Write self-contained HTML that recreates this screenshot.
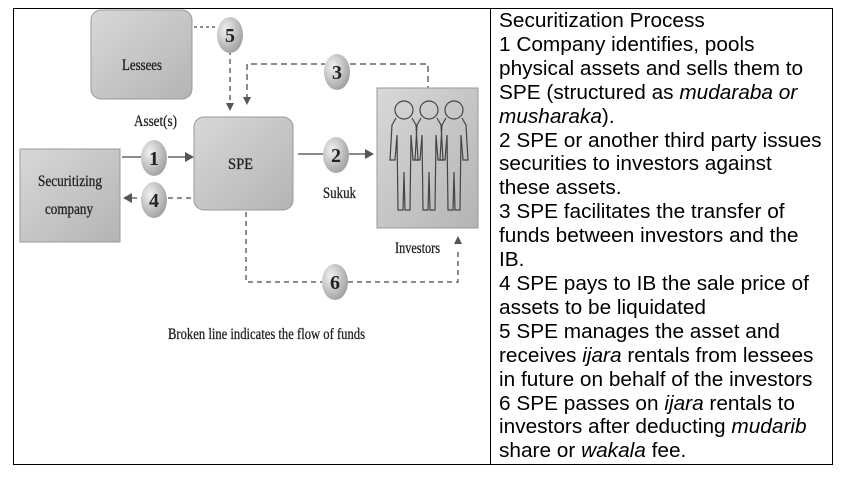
<!DOCTYPE html>
<html><head><meta charset="utf-8"><style>
body{margin:0;background:#fff;width:845px;height:485px;position:relative;overflow:hidden}
#t{position:absolute;left:13px;top:8px;width:818px;height:455px;border:1px solid #000}
#d{position:absolute;left:490px;top:8px;width:1px;height:456px;background:#000}
#txt{position:absolute;left:499px;top:10px;font-family:"Liberation Sans",sans-serif;font-size:20px;line-height:23.9px;color:#000;white-space:nowrap;transform:scaleX(1.04);transform-origin:0 0}
svg{position:absolute;left:0;top:0}
</style></head><body>
<div id="t"></div><div id="d"></div>
<svg width="490" height="470" viewBox="0 0 490 470" font-family="Liberation Serif,serif">
<defs>
<linearGradient id="g" x1="0" y1="0" x2="1" y2="1"><stop offset="0" stop-color="#d8d8d8"/><stop offset="1" stop-color="#b4b4b4"/></linearGradient>
<radialGradient id="c" cx="0.35" cy="0.35" r="0.7"><stop offset="0" stop-color="#f2f2f2"/><stop offset="1" stop-color="#a0a0a0"/></radialGradient>
</defs>
<g stroke="#666" stroke-width="1.5" fill="none">
<line x1="194" y1="27" x2="218" y2="27" stroke-dasharray="3,3"/>
<path d="M230 50 V103" stroke-dasharray="5,4"/>
<path d="M247 100 V64 H325 M350 64 H428 V88" stroke-dasharray="6,4"/>
<line x1="122" y1="157" x2="142" y2="157"/>
<line x1="168" y1="157" x2="185" y2="157"/>
<line x1="168" y1="198" x2="193" y2="198" stroke-dasharray="5,4"/>
<line x1="132" y1="198" x2="142" y2="198" stroke-dasharray="5,4"/>
<line x1="298" y1="154" x2="323" y2="154"/>
<line x1="349" y1="154" x2="365" y2="154"/>
<path d="M246 212 V282 H322 M348 282 H458 V250" stroke-dasharray="5,4"/>
</g>
<g fill="#555">
<polygon points="226,103 234,103 230,111"/>
<polygon points="243,97 251,97 247,105"/>
<polygon points="185,152 185,162 194,157"/>
<polygon points="365,149 365,159 374,154"/>
<polygon points="132,193 132,203 123,198"/>
<polygon points="454,244 462,244 458,236"/>
</g>
<rect x="91" y="10" width="101" height="89" rx="10" fill="url(#g)" stroke="#999"/>
<rect x="194" y="117" width="99" height="93" rx="10" fill="url(#g)" stroke="#999"/>
<rect x="20" y="149" width="100" height="93" fill="url(#g)" stroke="#999"/>
<rect x="377" y="88" width="101" height="140" fill="url(#g)" stroke="#999"/>
<g fill="none" stroke="#444" stroke-width="1.2">
<g id="p"><circle cx="404" cy="110" r="9"/><path d="M396 118 L392 125 L390 160 L395 160 L397 135 L398 210 L403 210 L404 172 L405 210 L410 210 L411 135 L413 160 L418 160 L416 125 L412 118"/></g>
<use href="#p" x="25"/><use href="#p" x="50"/>
</g>
<g fill="#222" stroke="#222" stroke-width="0.3" font-size="16" lengthAdjust="spacingAndGlyphs">
<text x="122" y="70" textLength="40" lengthAdjust="spacingAndGlyphs">Lessees</text>
<text x="228" y="169" textLength="25" lengthAdjust="spacingAndGlyphs">SPE</text>
<text x="38" y="186" textLength="64" lengthAdjust="spacingAndGlyphs">Securitizing</text>
<text x="45" y="214" textLength="48" lengthAdjust="spacingAndGlyphs">company</text>
<text x="134" y="126" textLength="43" lengthAdjust="spacingAndGlyphs">Asset(s)</text>
<text x="323" y="198" textLength="33" lengthAdjust="spacingAndGlyphs">Sukuk</text>
<text x="395" y="253" textLength="45" lengthAdjust="spacingAndGlyphs">Investors</text>
<text x="168" y="339" textLength="197" lengthAdjust="spacingAndGlyphs">Broken line indicates the flow of funds</text>
</g>
<g text-anchor="middle" font-size="20" fill="#222" font-weight="bold">
<ellipse cx="230" cy="35" rx="13" ry="18" fill="url(#c)"/><text x="230" y="42">5</text>
<ellipse cx="337" cy="72" rx="13" ry="18" fill="url(#c)"/><text x="337" y="79">3</text>
<ellipse cx="154" cy="158" rx="13" ry="18" fill="url(#c)"/><text x="154" y="165">1</text>
<ellipse cx="154" cy="200" rx="13" ry="18" fill="url(#c)"/><text x="154" y="207">4</text>
<ellipse cx="336" cy="155" rx="13" ry="18" fill="url(#c)"/><text x="336" y="162">2</text>
<ellipse cx="335" cy="282" rx="13" ry="18" fill="url(#c)"/><text x="335" y="289">6</text>
</g>
</svg>
<div id="txt">Securitization Process<br>1 Company identifies, pools<br>physical assets and sells them to<br>SPE (structured as <i>mudaraba or</i><br><i>musharaka</i>).<br>2 SPE or another third party issues<br>securities to investors against<br>these assets.<br>3 SPE facilitates the transfer of<br>funds between investors and the<br>IB.<br>4 SPE pays to IB the sale price of<br>assets to be liquidated<br>5 SPE manages the asset and<br>receives <i>ijara</i> rentals from lessees<br>in future on behalf of the investors<br>6 SPE passes on <i>ijara</i> rentals to<br>investors after deducting <i>mudarib</i><br>share or <i>wakala</i> fee.</div>
</body></html>
